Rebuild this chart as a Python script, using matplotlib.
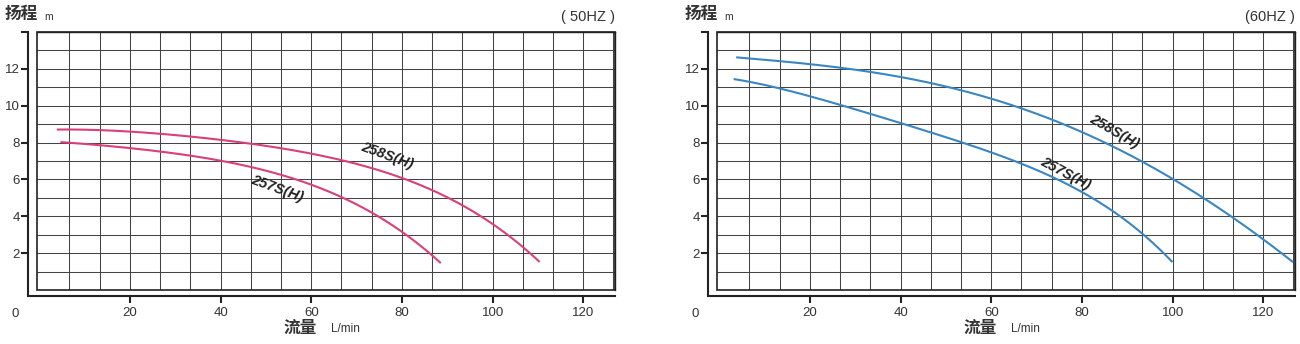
import numpy as np
import matplotlib
matplotlib.use("Agg")
from matplotlib import pyplot as plt
from matplotlib.patches import Rectangle

plt.rcParams['font.family'] = ['Liberation Sans', 'Noto Sans CJK SC', 'DejaVu Sans']

# 50Hz curves
q50_258 = [4.1, 13.4, 26.6, 39.8, 46.8, 64, 80, 86.7, 93.3, 100, 106.6, 110.2]
h50_258 = [8.72, 8.65, 8.49, 8.12, 7.98, 7.2, 6.09, 5.36, 4.55, 3.66, 2.43, 1.48]
q50_257 = [4.9, 13.2, 26.6, 39.8, 50.8, 64, 73.6, 80.2, 83.9, 88.4]
h50_257 = [8.02, 7.87, 7.5, 7.04, 6.43, 5.27, 4.26, 3.1, 2.38, 1.53]

# 60Hz curves
q60_258 = [3.95, 13.2, 20, 26.7, 40, 53.3, 60, 66.6, 80, 93, 100, 106.6, 113.3, 120, 126.4]
h60_258 = [12.61, 12.45, 12.27, 12.04, 11.5, 10.77, 10.5, 9.96, 8.52, 6.9, 6.0, 5.04, 3.98, 2.85, 1.46]
q60_257 = [3.4, 13.2, 20, 26.7, 40, 53.3, 60, 66.6, 73.2, 80, 86.4, 93, 96.8, 99.8]
h60_257 = [11.44, 10.96, 10.5, 10.0, 9.1, 8.07, 7.44, 6.86, 6.18, 5.19, 4.38, 3.2, 2.39, 1.44]

xticks = [20, 40, 60, 80, 100, 120]
yticks = [2, 4, 6, 8, 10, 12]

pink = "#d9407a"
blue = "#3a86c2"

fig = plt.figure(figsize=(13, 3.44), dpi=100)


def smooth(q, h):
    xs = np.linspace(q[0], q[-1], 200)
    p = np.polyfit(q, h, 4)
    return xs, np.polyval(p, xs)


def panel(left, curves, freq, labels):
    ax = fig.add_axes([left / 1300, 1 - 290 / 344, 578 / 1300, 258 / 344])
    ax.set_xlim(-0.5, 127)
    ax.set_ylim(0, 14)
    # grid
    ax.set_xticks(np.arange(20 / 3, 127, 20 / 3), minor=True)
    ax.set_yticks(np.arange(1, 14), minor=True)
    ax.set_xticks(xticks)
    ax.set_yticks(yticks + [14])
    ax.set_yticklabels([str(t) for t in yticks] + [''])
    ax.grid(which='both', color='#444444', lw=0.75)
    ax.tick_params(which='minor', length=0)
    ax.tick_params(which='major', length=5, width=1.5, color='#222222',
                   labelsize=9.5, labelcolor='#333333', pad=1)
    ax.tick_params(axis='x', pad=3)
    for s in ['top', 'right']:
        ax.spines[s].set_linewidth(1.0)
        ax.spines[s].set_color('#222222')
    ax.spines['left'].set_position(('outward', 6.5))
    ax.spines['bottom'].set_position(('outward', 4.3))
    ax.spines['left'].set_bounds(-0.35, 14)
    ax.spines['bottom'].set_bounds(-2.2, 127)
    for s in ['left', 'bottom']:
        ax.spines[s].set_linewidth(1.5)
        ax.spines[s].set_color('#222222')
    ax.add_patch(Rectangle((0, 0), 1, 1, transform=ax.transAxes, fill=False,
                           ec='#222222', lw=1.2, zorder=3, clip_on=False))

    for (q, h), c in curves:
        xs, ys = smooth(q, h)
        ax.plot(xs, ys, color=c, lw=1.5, zorder=4)
    for txt, x, y, rot in labels:
        ax.text(x, y, txt, rotation=rot, ha='center', va='center',
                fontsize=10.5, fontweight='bold', fontstyle='italic', color='#222222',
                rotation_mode='anchor', zorder=5)

    ax.text(-0.057, 1.035, '扬程', transform=ax.transAxes, fontsize=12,
            fontweight='bold', family=['Noto Sans CJK SC'], color='#333333',
            ha='left', va='bottom')
    ax.text(0.013, 1.04, 'm', transform=ax.transAxes, fontsize=7.5,
            color='#333333', ha='left', va='bottom')
    ax.text(1.0, 1.03, freq, transform=ax.transAxes, fontsize=10.5,
            color='#333333', ha='right', va='bottom')
    ax.text(-0.038, -0.068, '0', transform=ax.transAxes, fontsize=9.5,
            color='#333333', ha='center', va='top')
    ax.text(0.455, -0.147, '流量', transform=ax.transAxes, fontsize=12,
            fontweight='bold', family=['Noto Sans CJK SC'], color='#333333',
            ha='center', va='center')
    ax.text(0.508, -0.15, 'L/min', transform=ax.transAxes, fontsize=8.5,
            color='#333333', ha='left', va='center')
    return ax


panel(37, [((q50_258, h50_258), pink), ((q50_257, h50_257), pink)], '( 50HZ )',
      [('258S(H)', 76.8, 7.3, -20), ('257S(H)', 52.4, 5.5, -20)])
panel(717, [((q60_258, h60_258), blue), ((q60_257, h60_257), blue)], '(60HZ )',
      [('258S(H)', 87.1, 8.6, -30), ('257S(H)', 76.5, 6.3, -28)])

fig.savefig('out.png', dpi=100)
